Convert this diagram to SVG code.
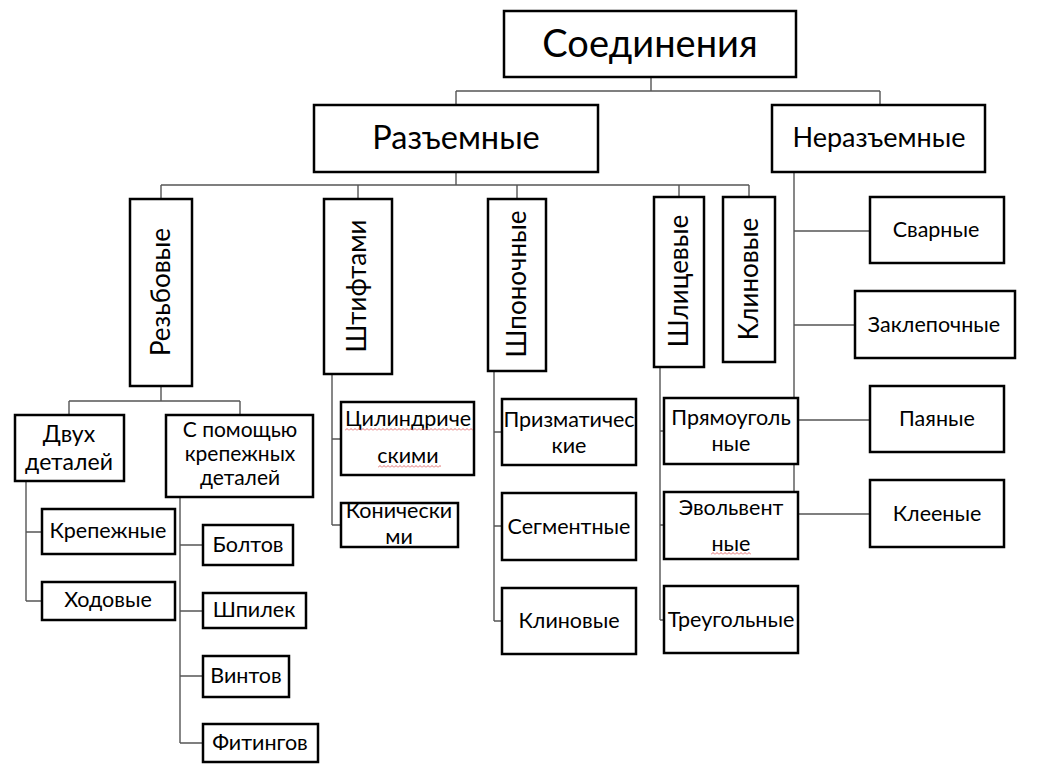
<svg xmlns="http://www.w3.org/2000/svg" width="1043" height="781" viewBox="0 0 1043 781">
<style>
.n rect{fill:#fff;stroke:#000;stroke-width:2.5}
text{font-family:Lato,"Noto Sans",sans-serif;fill:#000;text-anchor:middle;font-size:21.5px}
text.t1{font-size:38px}
text.t2{font-size:32.5px}
text.t3{font-size:27px}
text.v{font-size:26px}
text.m{font-size:23px}
text.m2{font-size:21px}
#connectors path{fill:none;stroke:#555;stroke-width:1.4}
.n rect.sq{fill:url(#wave);stroke:none}
</style>
<defs>
<pattern id="wave" width="4" height="3" patternUnits="userSpaceOnUse">
<path d="M0 2.5 L2 0.5 L4 2.5" fill="none" stroke="#d94848" stroke-width="0.8"/>
</pattern>
</defs>
<rect width="1043" height="781" fill="#fff"/>
<g id="connectors">
<path d="M651 77V91M456 91H880M456 91V105M880 91V105"/>
<path d="M456 172V185M161 185H749M161 185V199M358 185V199M517 185V199M679 185V197M749 185V197"/>
<path d="M794 172V492M794 231H870M794 325H855M798 420H870M798 514H870"/>
<path d="M161 386V401M69 401H240M69 401V415M240 401V415"/>
<path d="M26 481V601M26 532H42M26 601H42"/>
<path d="M180 497V743M180 545H203M180 611H203M180 676H203M180 743H203"/>
<path d="M332 374V525M332 439H341M332 525H341"/>
<path d="M494 371V621M494 432H502M494 526H502M494 621H502"/>
<path d="M660 367V620M660 431H664M660 525H664M660 620H664"/>
</g>
<g id="root" class="n"><rect x="504" y="11" width="292" height="66"/><text class="t1" x="650" y="57">Соединения</text></g>
<g id="razemnye" class="n"><rect x="314" y="105" width="284" height="67"/><text class="t2" x="456" y="149">Разъемные</text></g>
<g id="nerazemnye" class="n"><rect x="772" y="105" width="213" height="67"/><text class="t3" x="879" y="147">Неразъемные</text></g>
<g id="rezbovye" class="n"><rect x="130" y="199" width="62" height="187"/><text class="v" transform="translate(161 292) rotate(-90)" dy="0.36em">Резьбовые</text></g>
<g id="shtiftami" class="n"><rect x="324" y="199" width="68" height="175"/><text class="v" transform="translate(357 286) rotate(-90)" dy="0.36em">Штифтами</text></g>
<g id="shponochnye" class="n"><rect x="488" y="199" width="58" height="172"/><text class="v" transform="translate(517 284) rotate(-90)" dy="0.36em">Шпоночные</text></g>
<g id="shlicevye" class="n"><rect x="654" y="197" width="50" height="170"/><text class="v" transform="translate(679 281) rotate(-90)" dy="0.36em">Шлицевые</text></g>
<g id="klinovye" class="n"><rect x="723" y="197" width="52" height="165"/><text class="v" transform="translate(749 279) rotate(-90)" dy="0.36em">Клиновые</text></g>
<g id="dvuh" class="n"><rect x="15" y="415" width="109" height="66"/><text class="m" x="69" y="442">Двух</text><text class="m" x="69" y="470">деталей</text></g>
<g id="spomoshyu" class="n"><rect x="166" y="415" width="147" height="82"/><text class="m2" x="240" y="437">С помощью</text><text class="m2" x="240" y="461">крепежных</text><text class="m2" x="240" y="485">деталей</text></g>
<g id="krepezhnye" class="n"><rect x="42" y="509" width="133" height="45"/><text x="108" y="538">Крепежные</text></g>
<g id="hodovye" class="n"><rect x="42" y="582" width="133" height="38"/><text x="108" y="607">Ходовые</text></g>
<g id="boltov" class="n"><rect x="203" y="525" width="90" height="40"/><text x="248" y="552">Болтов</text></g>
<g id="shpilek" class="n"><rect x="203" y="593" width="103" height="35"/><text x="254" y="617">Шпилек</text></g>
<g id="vintov" class="n"><rect x="203" y="656" width="86" height="41"/><text x="246" y="683">Винтов</text></g>
<g id="fitingov" class="n"><rect x="203" y="724" width="115" height="38"/><text x="260" y="750">Фитингов</text></g>
<g id="cilindricheskimi" class="n"><rect x="341" y="402" width="133" height="73"/><text x="408" y="426">Цилиндриче</text><text x="408" y="463">скими</text><g transform="translate(345 428)"><rect class="sq" width="128" height="3"/></g><g transform="translate(378 465)"><rect class="sq" width="63" height="3"/></g></g>
<g id="konicheskimi" class="n"><rect x="341" y="503" width="117" height="44"/><text x="399" y="518">Конически</text><text x="399" y="544">ми</text></g>
<g id="prizmaticheskie" class="n"><rect x="502" y="399" width="134" height="66"/><text x="569" y="427">Призматичес</text><text x="569" y="453">кие</text></g>
<g id="segmentnye" class="n"><rect x="502" y="493" width="134" height="67"/><text x="569" y="534">Сегментные</text></g>
<g id="klinovye2" class="n"><rect x="502" y="588" width="134" height="66"/><text x="569" y="628">Клиновые</text></g>
<g id="pryamougolnye" class="n"><rect x="664" y="398" width="134" height="66"/><text x="731" y="425">Прямоуголь</text><text x="731" y="451">ные</text></g>
<g id="evolventnye" class="n"><rect x="664" y="492" width="134" height="67"/><text x="731" y="515">Эвольвент</text><text x="731" y="551">ные</text><g transform="translate(711 552)"><rect class="sq" width="40" height="3"/></g></g>
<g id="treugolnye" class="n"><rect x="664" y="586" width="134" height="67"/><text x="731" y="627">Треугольные</text></g>
<g id="svarnye" class="n"><rect x="870" y="197" width="134" height="66"/><text x="936" y="237">Сварные</text></g>
<g id="zaklepochnye" class="n"><rect x="855" y="291" width="160" height="67"/><text x="934" y="332">Заклепочные</text></g>
<g id="payanye" class="n"><rect x="870" y="386" width="134" height="66"/><text x="937" y="426">Паяные</text></g>
<g id="kleenye" class="n"><rect x="870" y="480" width="134" height="67"/><text x="937" y="521">Клееные</text></g>
</svg>
